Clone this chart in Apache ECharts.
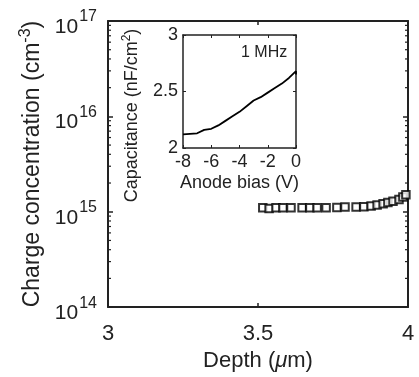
<!DOCTYPE html>
<html><head><meta charset="utf-8">
<script src="https://cdn.jsdelivr.net/npm/echarts@6/dist/echarts.min.js"></script>
<style>html,body{margin:0;padding:0;background:#fff}#c{width:419px;height:377px}</style>
</head><body><div id="c"></div>
<script>
// Main plot data: depth (µm) vs charge concentration (cm^-3)
const depth = [3.516,3.537,3.56,3.583,3.61,3.647,3.673,3.697,3.727,3.763,3.79,3.827,3.853,3.877,3.897,3.917,3.933,3.95,3.97,3.983,3.993];
const concentration = [1.10e15,1.08e15,1.10e15,1.10e15,1.10e15,1.10e15,1.10e15,1.10e15,1.10e15,1.11e15,1.12e15,1.12e15,1.13e15,1.15e15,1.18e15,1.21e15,1.25e15,1.29e15,1.34e15,1.43e15,1.51e15];
// Inset data: anode bias (V) vs capacitance (nF/cm^2)
const bias = [-8,-7.5,-7,-6.5,-6,-5.5,-5,-4.5,-4,-3.5,-3,-2.5,-2,-1.5,-1,-0.5,0,0];
const capacitance = [2.12,2.125,2.13,2.16,2.17,2.2,2.24,2.28,2.32,2.37,2.42,2.45,2.49,2.53,2.57,2.62,2.68,2.65];
// Tick labels
const xTicks = [3,3.5,4];
const yExps = [14,15,16,17];
const insetXTicks = [-8,-6,-4,-2,0];
const insetYTicks = [2,2.5,3];
// minor tick positions of log axis
const minorVals = [];
for (let e = 14; e < 17; e++) for (let m = 2; m <= 9; m++) minorVals.push(m * Math.pow(10, e));

const FONT = '"Liberation Sans", Arial, sans-serif';
const chart = echarts.init(document.getElementById('c'));
const axisCol = '#222';
const txt = '#222';

const option = {
  animation:false,
  backgroundColor:'#fff',
  grid:[{left:108, top:21, right:11, bottom:56}, {left:183, top:35, width:113, height:113}],
  xAxis:[
    {gridIndex:0, type:'value', min:3, max:4, interval:0.5, position:'bottom',
     axisLine:{show:true, onZero:false, lineStyle:{color:axisCol, width:2}},
     axisTick:{show:true, inside:true, length:4, lineStyle:{color:axisCol, width:1.5}},
     splitLine:{show:false},
     axisLabel:{fontFamily:FONT, fontSize:22, color:txt, margin:16,
       formatter:v=> xTicks.includes(v) ? String(v) : ''},
     name:'{a|Depth (}{i|μ}{a|m)}', nameLocation:'middle', nameGap:38,
     nameTextStyle:{rich:{a:{fontFamily:FONT,fontSize:22,color:txt},i:{fontFamily:FONT,fontSize:22,fontStyle:'italic',color:txt}}}},
    {gridIndex:0, type:'value', min:3, max:4, interval:0.5, position:'top',
     axisLine:{show:true, onZero:false, lineStyle:{color:axisCol, width:2}},
     axisTick:{show:true, inside:true, length:4, lineStyle:{color:axisCol, width:1.5}},
     axisLabel:{show:false}, splitLine:{show:false}},
    {gridIndex:1, type:'value', min:-8, max:0, interval:2, position:'bottom',
     axisLine:{show:true, onZero:false, lineStyle:{color:axisCol, width:1.5}},
     axisTick:{show:true, inside:true, length:3, lineStyle:{color:axisCol}},
     splitLine:{show:false},
     axisLabel:{fontFamily:FONT, fontSize:18, color:txt, margin:5,
       formatter:v=> insetXTicks.includes(v) ? String(v) : ''},
     name:'Anode bias (V)', nameLocation:'middle', nameGap:26,
     nameTextStyle:{fontFamily:FONT, fontSize:18, color:txt}},
    {gridIndex:1, type:'value', min:-8, max:0, interval:2, position:'top',
     axisLine:{show:true, onZero:false, lineStyle:{color:axisCol, width:1.5}},
     axisTick:{show:true, inside:true, length:3, lineStyle:{color:axisCol}},
     axisLabel:{show:false}, splitLine:{show:false}}
  ],
  yAxis:[
    {gridIndex:0, type:'log', min:1e14, max:1e17, logBase:10, position:'left',
     axisLine:{show:true, onZero:false, lineStyle:{color:axisCol, width:2}},
     axisTick:{show:true, inside:true, length:5, lineStyle:{color:axisCol, width:1.5}},
     splitLine:{show:false},
     axisLabel:{margin:11, formatter:v=>{const e=Math.round(Math.log10(v)); return yExps.includes(e)?'{a|10}{s|'+e+'}':'';},
       rich:{a:{fontFamily:FONT,fontSize:21,color:txt,padding:[12,0,0,0]},s:{fontFamily:FONT,fontSize:16,color:txt,padding:[0,0,8,1]}}},
     name:'{a|Charge concentration (cm}{s|-3}{a|)}', nameLocation:'middle', nameGap:58,
     nameTextStyle:{rich:{a:{fontFamily:FONT,fontSize:23,color:txt},s:{fontFamily:FONT,fontSize:16,color:txt,padding:[0,0,14,0]}}}},
    {gridIndex:0, type:'log', min:1e14, max:1e17, logBase:10, position:'right',
     axisLine:{show:true, onZero:false, lineStyle:{color:axisCol, width:2}},
     axisTick:{show:true, inside:true, length:5, lineStyle:{color:axisCol, width:1.5}},
     axisLabel:{show:false}, splitLine:{show:false}},
    {gridIndex:1, type:'value', min:2, max:3, interval:0.5, position:'left',
     axisLine:{show:true, onZero:false, lineStyle:{color:axisCol, width:1.5}},
     axisTick:{show:true, inside:true, length:3, lineStyle:{color:axisCol}},
     splitLine:{show:false},
     axisLabel:{fontFamily:FONT, fontSize:18, color:txt, margin:5,
       formatter:v=> insetYTicks.includes(v) ? String(v) : ''},
     name:'{a|Capacitance (nF/cm}{s|2}{a|)}', nameLocation:'middle', nameGap:40,
     nameTextStyle:{padding:[0,48,0,0], rich:{a:{fontFamily:FONT,fontSize:18,color:txt},s:{fontFamily:FONT,fontSize:12,color:txt,padding:[0,0,10,0]}}}},
    {gridIndex:1, type:'value', min:2, max:3, interval:0.5, position:'right',
     axisLine:{show:true, onZero:false, lineStyle:{color:axisCol, width:1.5}},
     axisTick:{show:true, inside:true, length:3, lineStyle:{color:axisCol}},
     axisLabel:{show:false}, splitLine:{show:false}}
  ],
  series:[
    {type:'custom', xAxisIndex:0, yAxisIndex:0, silent:true, clip:false,
     data: minorVals.map(v=>[3, v]),
     renderItem:(params, api)=>{
       const pL = api.coord([3, api.value(1)]);
       const pR = api.coord([4, api.value(1)]);
       return {type:'group', children:[
         {type:'line', shape:{x1:pL[0], y1:pL[1], x2:pL[0]+3, y2:pL[1]}, style:{stroke:axisCol, lineWidth:1.2}},
         {type:'line', shape:{x1:pR[0], y1:pR[1], x2:pR[0]-3, y2:pR[1]}, style:{stroke:axisCol, lineWidth:1.2}}
       ]};
     }},
    {type:'scatter', xAxisIndex:0, yAxisIndex:0, symbol:'rect', symbolSize:7.5,
     itemStyle:{color:'#fff', borderColor:'#000', borderWidth:2},
     data: depth.map((d,i)=>[d, concentration[i]])},
    {type:'line', xAxisIndex:2, yAxisIndex:2, symbol:'none',
     lineStyle:{color:'#000', width:1.8},
     data: bias.map((b,i)=>[b, capacitance[i]])}
  ],
  graphic:[
    {type:'text', left:241, top:45, style:{text:'1 MHz', fontFamily:FONT, fontSize:16, fill:txt}}
  ]
};
chart.setOption(option);
</script></body></html>
